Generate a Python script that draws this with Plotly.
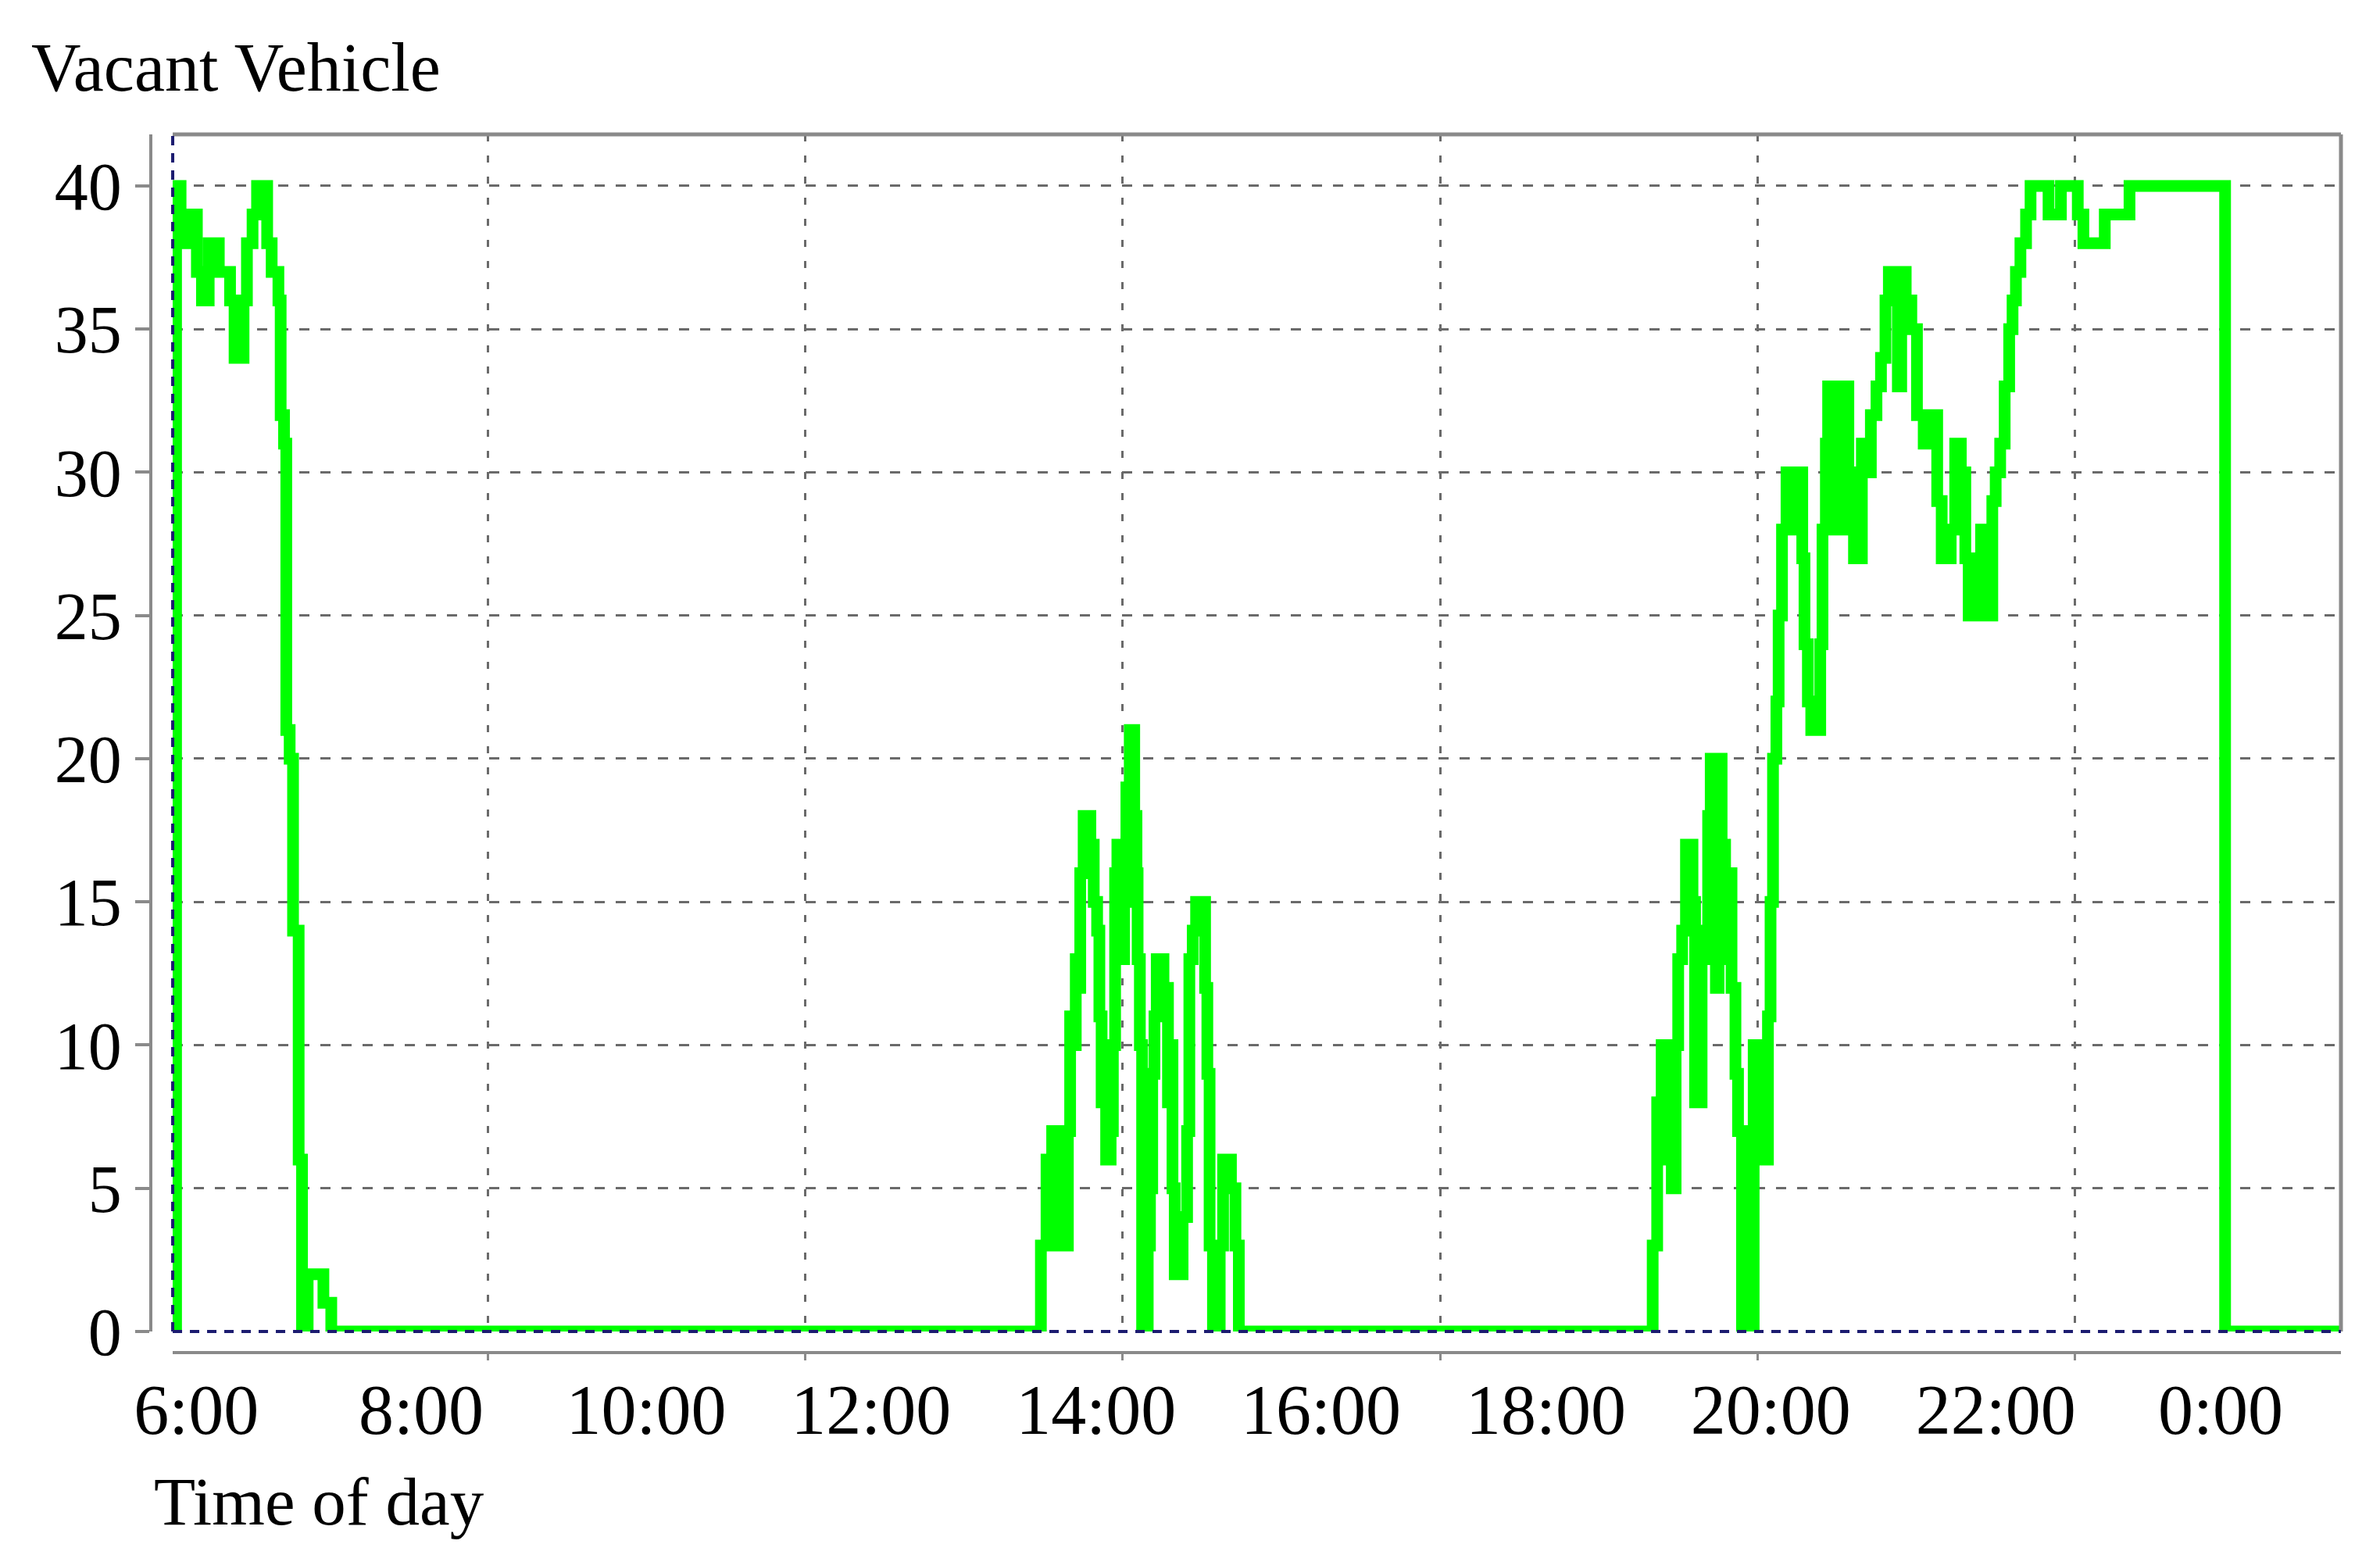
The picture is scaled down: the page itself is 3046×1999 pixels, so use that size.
import plotly.graph_objects as go

# ---- data: time of day in hours (24 = midnight), vacant vehicle count ----
morning_t = [5.79, 5.82, 5.86, 5.925, 6.005, 6.05, 6.11, 6.20, 6.30, 6.34, 6.42, 6.45, 6.50, 6.54,
             6.63, 6.67, 6.73, 6.75, 6.78, 6.80, 6.83, 6.86, 6.89, 6.91, 6.94, 6.99, 7.13, 7.17, 7.20]
morning_v = [0, 40, 38, 39, 37, 36, 38, 37, 36, 34, 36, 38, 39, 40,
             38, 37, 36, 32, 31, 21, 20, 14, 14, 6, 0, 2, 1, 1, 0]

afternoon_t = [13.50, 13.51, 13.56, 13.58, 13.61, 13.67, 13.70, 13.75, 13.77, 13.80, 13.82, 13.84,
               13.86, 13.89, 13.95, 13.98, 14.01, 14.03, 14.05, 14.07, 14.09, 14.13, 14.15, 14.17,
               14.19, 14.22, 14.25, 14.27, 14.30, 14.34, 14.36, 14.37, 14.39, 14.41, 14.46, 14.48,
               14.50, 14.52, 14.54, 14.60, 14.64, 14.66, 14.68, 14.70, 14.77, 14.81, 14.83, 14.86,
               14.89, 14.97, 14.99, 15.01, 15.04, 15.10, 15.13, 15.20, 15.24, 15.27]
afternoon_v = [0, 3, 6, 3, 7, 4, 3, 7, 11, 10, 13, 12,
               16, 18, 17, 15, 14, 11, 8, 9, 6, 7, 10, 16,
               17, 13, 15, 19, 21, 18, 16, 13, 10, 0, 3, 5,
               9, 11, 13, 12, 8, 10, 5, 2, 4, 7, 13, 14,
               15, 12, 9, 3, 0, 3, 6, 5, 3, 0]

evening_t = [18.94, 18.95, 18.99, 19.03, 19.085, 19.12, 19.154, 19.177, 19.212, 19.246, 19.304,
             19.327, 19.385, 19.42, 19.443, 19.466, 19.512, 19.536, 19.563, 19.594, 19.628, 19.651,
             19.686, 19.709, 19.744, 19.848, 19.883, 19.975, 19.998, 20.02, 20.05, 20.07, 20.10]
evening_v = [0, 3, 8, 10, 6, 5, 10, 13, 14, 17, 15,
             8, 13, 14, 18, 20, 12, 20, 17, 13, 16, 12,
             9, 7, 0, 10, 6, 11, 15, 20, 22, 25, 28]

night_t = [20.14, 20.20, 20.23, 20.28, 20.30, 20.33, 20.36, 20.44, 20.46, 20.49, 20.51, 20.55,
           20.58, 20.62, 20.65, 20.69, 20.74, 20.81, 20.86, 20.89, 20.94, 20.98, 21.02, 21.05,
           21.13, 21.16, 21.20, 21.25, 21.30, 21.36, 21.42, 21.48, 21.52, 21.60, 21.64, 21.69,
           21.73, 21.76, 21.80, 21.83, 21.87, 21.90, 21.93, 21.97, 22.00, 22.04, 22.08, 22.12,
           22.15, 22.18, 22.22, 22.27, 22.31, 22.47, 22.58, 22.73, 22.78, 22.97, 23.19, 24.04, 25.07]
night_v = [30, 28, 30, 27, 24, 22, 21, 24, 28, 31, 33, 28,
           33, 28, 33, 30, 27, 31, 30, 32, 33, 34, 36, 37,
           33, 37, 36, 35, 32, 31, 32, 29, 27, 28, 31, 30,
           27, 25, 27, 25, 28, 26, 25, 29, 30, 31, 33, 35,
           36, 37, 38, 39, 40, 39, 40, 39, 38, 39, 40, 0, 0]

time_h = morning_t + afternoon_t + evening_t + night_t
vacant = morning_v + afternoon_v + evening_v + night_v

tick_hours = [6, 8, 10, 12, 14, 16, 18, 20, 22, 24]
tick_labels = ["6:00", "8:00", "10:00", "12:00", "14:00", "16:00", "18:00", "20:00", "22:00", "0:00"]

FONT = "Liberation Serif"
AXIS_GRAY = "#8a8a8a"
GRID_GRAY = "#6a6a6a"
NAVY = "#1c1c70"

W, H = 3046, 1999
L, R, T, B = 185, 58, 164, 276


def px_x(px):
    return (px - L) / (W - L - R)


def px_y(py):
    return (H - B - py) / (H - T - B)


fig = go.Figure()
fig.add_trace(go.Scatter(
    x=time_h, y=vacant, mode="lines",
    line=dict(color="#00ff00", width=15, shape="hv"),
    showlegend=False, hoverinfo="x+y",
))

fig.update_layout(
    width=W, height=H,
    margin=dict(l=L, r=R, t=T, b=B),
    paper_bgcolor="white", plot_bgcolor="white",
    font=dict(family=FONT, color="black"),
    showlegend=False,
    xaxis=dict(
        domain=[0.0100, 1], range=[5.79, 25.07],
        anchor="free", position=0,
        showline=True, linecolor=AXIS_GRAY, linewidth=4,
        tickmode="array", tickvals=tick_hours, ticktext=tick_labels,
        ticks="", showgrid=False, zeroline=False,
        tickfont=dict(family=FONT, size=90, color="black"),
        ticklabelstandoff=-6,
        minor=dict(tickmode="linear", tick0=5.767, dtick=2.8233,
                   showgrid=True, gridcolor=GRID_GRAY, gridwidth=3, griddash="9px,18px",
                   ticks="outside", ticklen=8, tickwidth=3, tickcolor=AXIS_GRAY),
    ),
    yaxis=dict(
        domain=[0.01732, 1], range=[0, 41.8],
        anchor="free", position=0,
        showline=True, linecolor=AXIS_GRAY, linewidth=4,
        tickmode="linear", tick0=0, dtick=5,
        ticks="outside", ticklen=18, tickwidth=4, tickcolor=AXIS_GRAY,
        showgrid=True, gridcolor=GRID_GRAY, gridwidth=3, griddash="13px,14px",
        zeroline=False,
        tickfont=dict(family=FONT, size=86, color="black"),
    ),
    shapes=[
        dict(type="line", xref="x domain", yref="y domain", x0=0, x1=1, y0=1, y1=1,
             line=dict(color=AXIS_GRAY, width=5), layer="above"),
        dict(type="line", xref="x domain", yref="y domain", x0=1, x1=1, y0=0, y1=1,
             line=dict(color=AXIS_GRAY, width=5), layer="above"),
        dict(type="line", xref="x domain", yref="y domain", x0=0, x1=1, y0=0, y1=0,
             line=dict(color=NAVY, width=4, dash="12px,10px"), layer="above"),
        dict(type="line", xref="x domain", yref="y domain", x0=0, x1=0, y0=0, y1=1,
             line=dict(color=NAVY, width=4, dash="12px,10px"), layer="above"),
    ],
    annotations=[
        dict(text="Vacant Vehicle", xref="paper", yref="paper", x=px_x(30), y=px_y(78),
             xanchor="left", yanchor="middle", showarrow=False,
             font=dict(family=FONT, size=88, color="black")),
        dict(text="Time of day", xref="paper", yref="paper", x=px_x(187), y=px_y(1913),
             xanchor="left", yanchor="middle", showarrow=False,
             font=dict(family=FONT, size=87, color="black")),
    ],
)

fig.write_html("out.html")
